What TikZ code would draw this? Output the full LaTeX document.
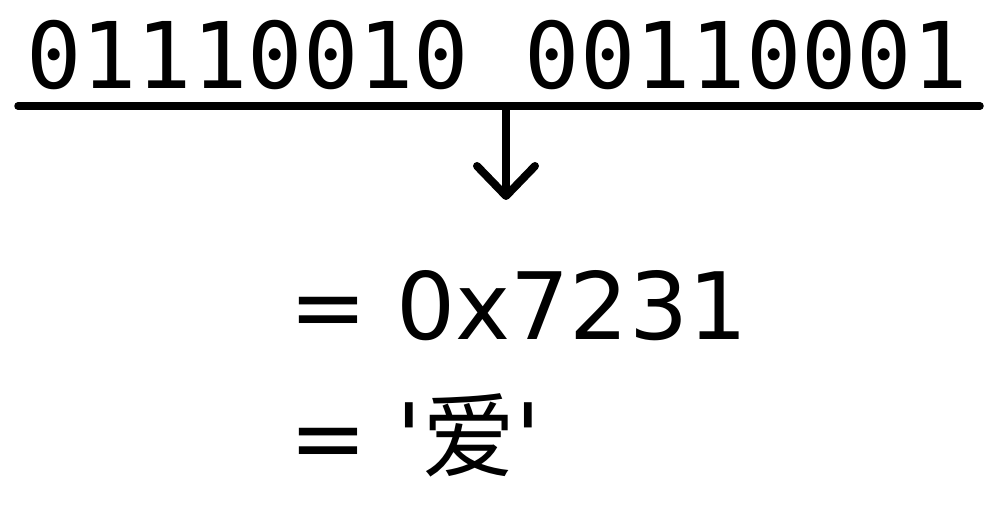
\documentclass[tikz,border=0pt]{standalone}
\usepackage{fontspec}
\newfontfamily\eqfont{DejaVu Sans}
\newfontfamily\monofont{DejaVu Sans Mono}
\newfontfamily\cjk{Noto Sans CJK SC}
\begin{document}
\begin{tikzpicture}[x=1pt,y=1pt,
  txt/.style={inner sep=0pt,anchor=base west},
  bits/.style={txt,font=\monofont\fontsize{92}{92}\selectfont},
  eqtxt/.style={txt,font=\eqfont\fontsize{93}{93}\selectfont},
  rule/.style={line width=7.5pt,line cap=round},
  shaft/.style={line width=8pt},
  barb/.style={line width=8pt,line cap=round,line join=round}]
\useasboundingbox (0,0) rectangle (998,-510);
\node[bits] (bits) at (26,-89) {01110010 00110001};
\coordinate (ruleL) at (18,-106);
\coordinate (ruleR) at (980,-106);
\draw[rule] (ruleL) -- (ruleR);
\coordinate (arrS) at (506,-106);
\coordinate (arrE) at (506,-196);
\draw[shaft] (arrS) -- (arrE);
\draw[barb] (arrE) ++(-29,30) -- (arrE) -- ++(29,30);
\node[eqtxt] (hex) at (289,-340) {= 0x7231};
\node[eqtxt] (chr) at (289,-470) {= '{\cjk 爱}'};
\end{tikzpicture}
\end{document}
